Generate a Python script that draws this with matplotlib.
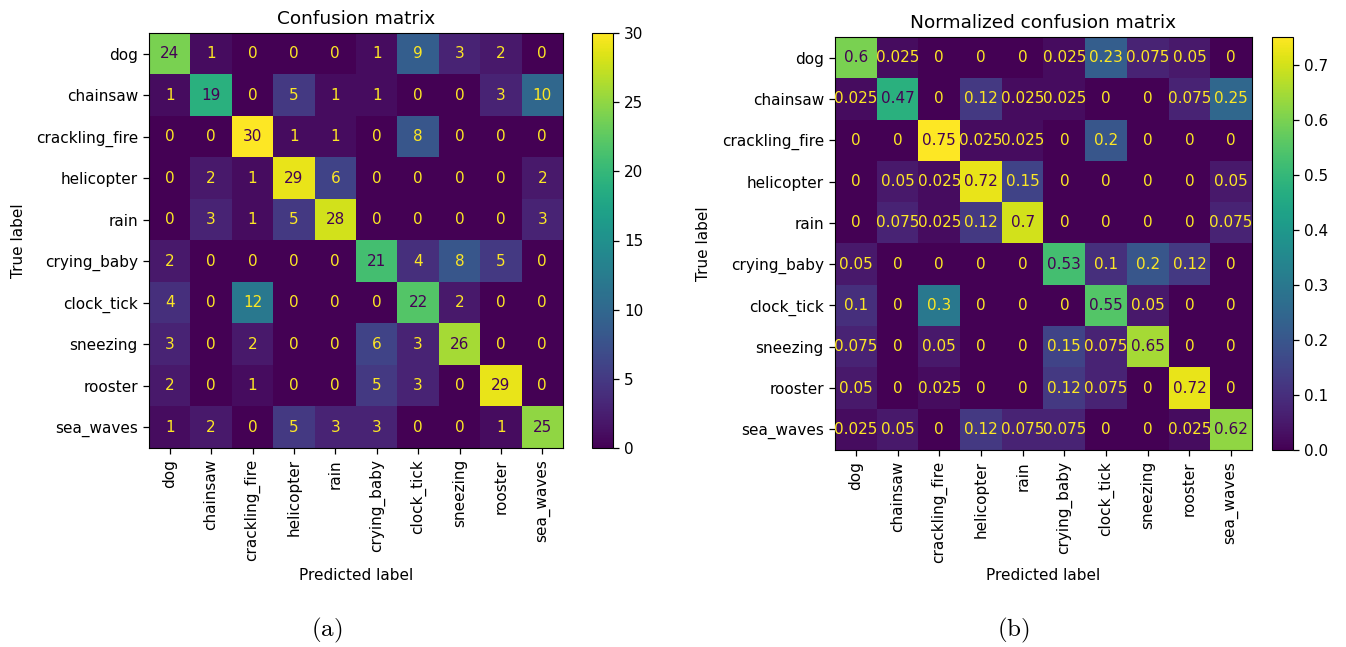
import numpy as np
import matplotlib
matplotlib.use("Agg")
import matplotlib.pyplot as plt

labels = ["dog", "chainsaw", "crackling_fire", "helicopter", "rain",
          "crying_baby", "clock_tick", "sneezing", "rooster", "sea_waves"]

counts = np.array([
    [24, 1, 0, 0, 0, 1, 9, 3, 2, 0],
    [1, 19, 0, 5, 1, 1, 0, 0, 3, 10],
    [0, 0, 30, 1, 1, 0, 8, 0, 0, 0],
    [0, 2, 1, 29, 6, 0, 0, 0, 0, 2],
    [0, 3, 1, 5, 28, 0, 0, 0, 0, 3],
    [2, 0, 0, 0, 0, 21, 4, 8, 5, 0],
    [4, 0, 12, 0, 0, 0, 22, 2, 0, 0],
    [3, 0, 2, 0, 0, 6, 3, 26, 0, 0],
    [2, 0, 1, 0, 0, 5, 3, 0, 29, 0],
    [1, 2, 0, 5, 3, 3, 0, 0, 1, 25],
])

normalized = np.array([
    [0.6, 0.025, 0, 0, 0, 0.025, 0.225, 0.075, 0.05, 0],
    [0.025, 0.475, 0, 0.125, 0.025, 0.025, 0, 0, 0.075, 0.25],
    [0, 0, 0.75, 0.025, 0.025, 0, 0.2, 0, 0, 0],
    [0, 0.05, 0.025, 0.725, 0.15, 0, 0, 0, 0, 0.05],
    [0, 0.075, 0.025, 0.125, 0.7, 0, 0, 0, 0, 0.075],
    [0.05, 0, 0, 0, 0, 0.525, 0.1, 0.2, 0.125, 0],
    [0.1, 0, 0.3, 0, 0, 0, 0.55, 0.05, 0, 0],
    [0.075, 0, 0.05, 0, 0, 0.15, 0.075, 0.65, 0, 0],
    [0.05, 0, 0.025, 0, 0, 0.125, 0.075, 0, 0.725, 0],
    [0.025, 0.05, 0, 0.125, 0.075, 0.075, 0, 0, 0.025, 0.625],
])

FS = 11
W, H = 1346, 647
fig = plt.figure(figsize=(W / 100, H / 100), dpi=100)


def px_axes(x0, y0, x1, y1):
    return fig.add_axes([x0 / W, 1 - y1 / H, (x1 - x0) / W, (y1 - y0) / H])


def draw(ax, cax, data, title, fmt, box, ylab_x, xlab_y):
    x0, y0, x1, y1 = box
    cmap = plt.get_cmap("viridis")
    im = ax.imshow(data, cmap=cmap, aspect="auto", interpolation="nearest",
                   vmin=data.min(), vmax=data.max())
    thresh = (data.max() + data.min()) / 2.0
    n = data.shape[0]
    for i in range(n):
        for j in range(n):
            v = data[i, j]
            color = cmap(1.0) if v < thresh else cmap(0.0)
            ax.text(j, i, format(v, fmt), ha="center", va="center",
                    color=color, fontsize=FS)
    ax.set_xticks(range(n))
    ax.set_xticklabels(labels, rotation=90, fontsize=FS)
    ax.set_yticks(range(n))
    ax.set_yticklabels(labels, fontsize=FS)
    ax.tick_params(length=4.5, width=0.9)
    xl = ax.set_xlabel("Predicted label", fontsize=FS)
    yl = ax.set_ylabel("True label", fontsize=FS)
    xl.set_va("center")
    yl.set_va("center")
    yl.set_ha("center")
    ax.xaxis.set_label_coords(0.5, (y1 - xlab_y) / (y1 - y0))
    ax.yaxis.set_label_coords((ylab_x - x0) / (x1 - x0), 0.5)
    ax.set_title(title, fontsize=13.3, pad=6.5)
    cb = fig.colorbar(im, cax=cax)
    cb.ax.tick_params(labelsize=FS, length=4.5, width=0.9)
    return im


box1 = (149, 33, 563, 448)
ax1 = px_axes(*box1)
cax1 = px_axes(592, 33, 613, 448)
draw(ax1, cax1, counts, "Confusion matrix", "d", box1, 18.5, 576)

box2 = (835, 37, 1252, 450)
ax2 = px_axes(*box2)
cax2 = px_axes(1272, 37, 1293, 450)
draw(ax2, cax2, normalized, "Normalized confusion matrix", ".2g", box2, 703, 576)

fig.text(327 / W, 1 - 630 / H, r"$\mathrm{(a)}$", ha="center", va="center",
         fontsize=18, math_fontfamily="cm")
fig.text(1013 / W, 1 - 630 / H, r"$\mathrm{(b)}$", ha="center", va="center",
         fontsize=18, math_fontfamily="cm")

fig.savefig("out.png", dpi=100, facecolor="white")
